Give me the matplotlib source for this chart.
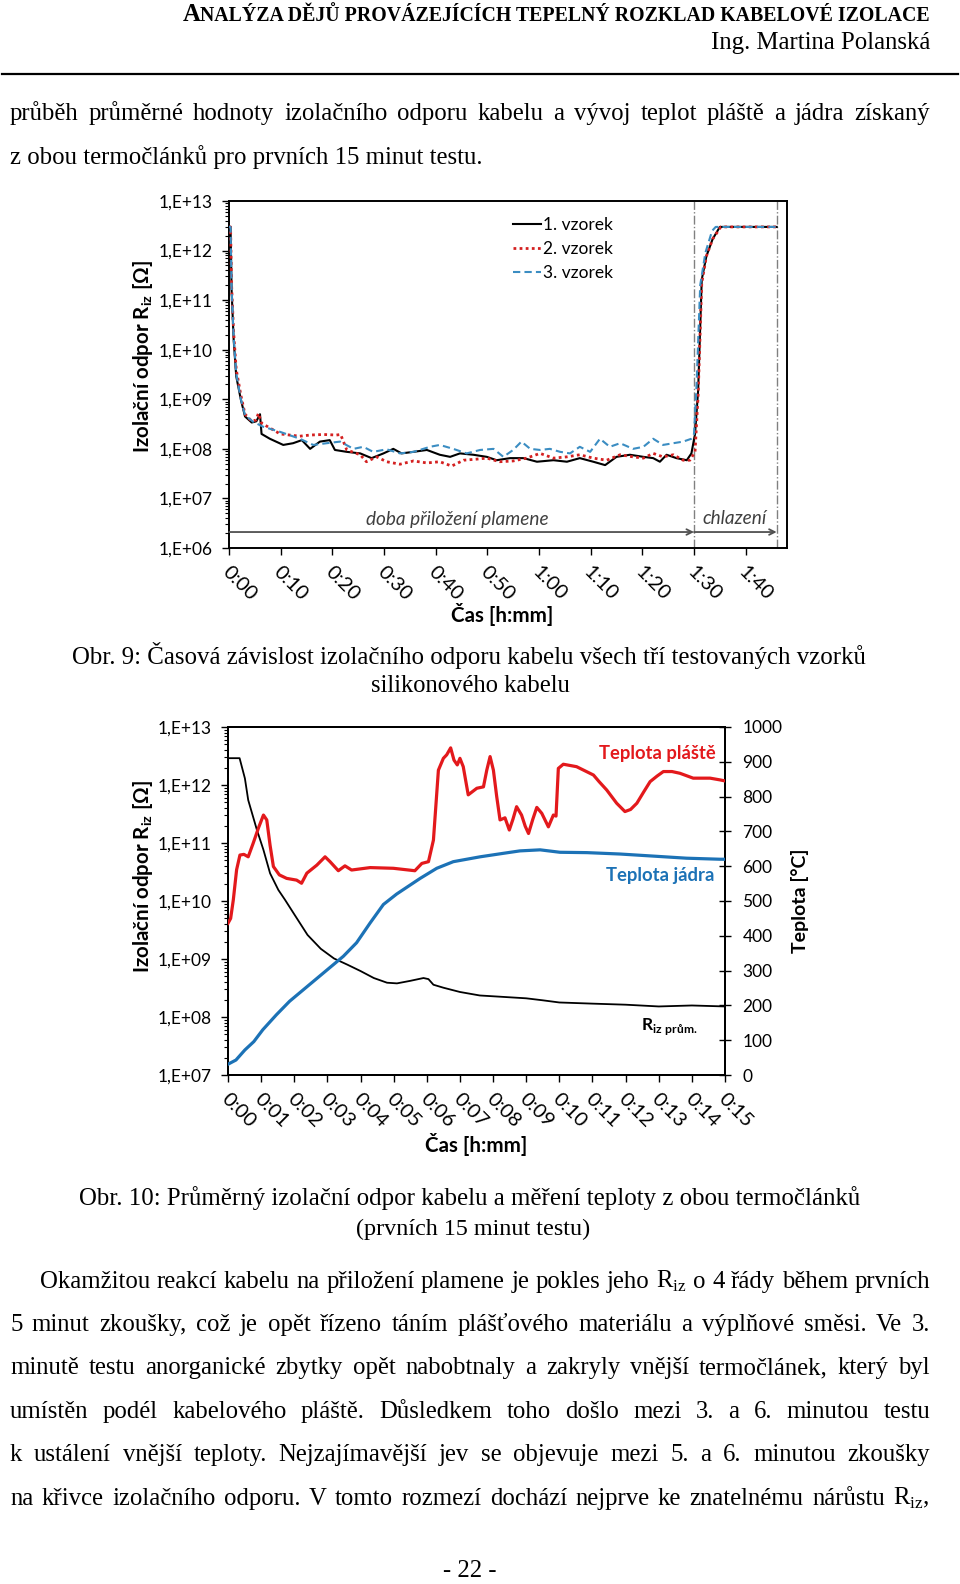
import numpy as np
import matplotlib
matplotlib.use('Agg')
import matplotlib.pyplot as plt
from matplotlib.transforms import Affine2D, ScaledTranslation
from matplotlib.lines import Line2D

# ---------------- data: chart 1 (three samples, time in minutes) ----------------
s1_t = [0, 0.3, 0.5, 0.9, 1.4, 2.3, 3.1, 4.4, 5.3, 6.0, 6.3, 7.9, 10.5, 12.4, 14.1, 15.7, 17.6,
        19.5, 20.5, 22.8, 25.4, 27.6, 29.9, 31.8, 33.4, 35.7, 38.3, 40.8, 42.8, 44.7, 47.3, 49.9,
        51.8, 54.4, 57.0, 59.6, 62.8, 65.4, 67.9, 70.5, 72.8, 75.0, 77.6, 80.2, 82.1, 83.4, 84.7,
        86.6, 88.6, 89.5, 90.2, 90.8, 91.5, 92.4, 93.6, 95.0, 106.0]
s1_v = [3.0e12, 3.0e12, 1.6e11, 1.6e10, 2.9e9, 9.8e8, 4.5e8, 3.4e8, 3.6e8, 5.0e8, 2.0e8, 1.6e8,
        1.2e8, 1.3e8, 1.5e8, 1.0e8, 1.4e8, 1.5e8, 9.5e7, 8.7e7, 8.1e7, 6.5e7, 8.1e7, 1.0e8, 8.1e7,
        8.7e7, 9.5e7, 7.6e7, 6.9e7, 8.1e7, 7.6e7, 6.9e7, 5.9e7, 6.5e7, 6.5e7, 5.5e7, 5.9e7, 5.5e7,
        6.5e7, 5.5e7, 4.7e7, 6.9e7, 7.6e7, 6.9e7, 6.5e7, 5.5e7, 7.6e7, 6.5e7, 5.9e7, 8.1e7, 2.0e8,
        1.5e9, 2.6e11, 7.7e11, 1.7e12, 3.0e12, 3.0e12]

s2_t = [0, 0.3, 0.5, 0.9, 1.4, 2.3, 3.1, 4.4, 5.2, 5.7, 6.3, 9.9, 13.7, 15.7, 18.3, 20.8, 21.6,
        22.8, 25.4, 26.6, 28.6, 30.5, 33.1, 35.7, 38.3, 40.8, 43.1, 45.4, 47.9, 49.9, 52.4, 55.0,
        57.6, 60.2, 62.8, 65.4, 67.9, 70.5, 73.1, 75.7, 78.2, 80.2, 82.1, 84.0, 86.0, 87.9, 89.2,
        90.2, 90.8, 91.5, 92.4, 93.6, 95.2, 106.0]
s2_v = [3.0e12, 3.0e12, 2.0e11, 2.2e10, 4.0e9, 1.2e9, 5.0e8, 3.6e8, 3.8e8, 5.2e8, 3.3e8, 2.0e8,
        1.8e8, 1.9e8, 1.95e8, 1.9e8, 1.95e8, 9.5e7, 7.6e7, 5.5e7, 6.9e7, 5.5e7, 4.9e7, 5.7e7, 5.2e7,
        5.5e7, 4.5e7, 5.9e7, 6.2e7, 6.5e7, 5.5e7, 5.7e7, 6.5e7, 8.1e7, 6.5e7, 6.9e7, 7.6e7, 6.5e7,
        5.9e7, 7.6e7, 6.9e7, 6.5e7, 8.1e7, 6.9e7, 7.6e7, 5.9e7, 5.9e7, 8.7e7, 1.2e9, 2.2e11, 7.7e11,
        1.7e12, 3.0e12, 3.0e12]

s3_t = [0, 0.3, 0.5, 0.9, 1.4, 2.3, 3.1, 4.7, 6.6, 9.9, 13.7, 16.3, 18.9, 21.5, 24.1, 26.0, 27.9,
        30.5, 33.1, 35.7, 38.9, 40.8, 43.4, 46.0, 48.6, 51.2, 53.1, 55.0, 56.6, 58.3, 60.2, 62.1,
        64.1, 66.0, 67.9, 69.9, 71.8, 73.7, 75.7, 78.2, 80.2, 82.1, 84.0, 86.0, 87.9, 89.5, 90.0,
        90.5, 91.2, 92.2, 93.5, 94.2, 106.0]
s3_v = [3.0e12, 3.0e12, 1.8e11, 1.8e10, 3.3e9, 1.0e9, 4.8e8, 3.5e8, 2.8e8, 2.2e8, 1.6e8, 1.2e8,
        1.3e8, 1.4e8, 1.0e8, 1.1e8, 8.7e7, 9.8e7, 8.1e7, 8.7e7, 1.1e8, 1.2e8, 1.0e8, 8.1e7, 9.5e7,
        1.0e8, 6.9e7, 9.5e7, 1.4e8, 1.0e8, 9.5e7, 1.0e8, 8.7e7, 8.1e7, 1.1e8, 8.7e7, 1.6e8, 1.1e8,
        1.3e8, 1.0e8, 1.1e8, 1.6e8, 1.2e8, 1.3e8, 1.4e8, 1.6e8, 2.0e8, 2.0e9, 2.0e11, 9.0e11,
        2.5e12, 3.0e12, 3.0e12]

series1_labels = ['1. vzorek', '2. vzorek', '3. vzorek']
c1_xticks = [0, 10, 20, 30, 40, 50, 60, 70, 80, 90, 100]
c1_xticklabels = ['0:00', '0:10', '0:20', '0:30', '0:40', '0:50', '1:00', '1:10', '1:20', '1:30', '1:40']
c1_yticks = [1e6, 1e7, 1e8, 1e9, 1e10, 1e11, 1e12, 1e13]
c1_yticklabels = ['1,E+06', '1,E+07', '1,E+08', '1,E+09', '1,E+10', '1,E+11', '1,E+12', '1,E+13']
flame_end = 90      # end of flame application [min]
cooling_end = 106   # end of cooling [min]

# ---------------- data: chart 2 (first 15 minutes) ----------------
riz_t = [0, 0.35, 0.51, 0.61, 0.87, 1.07, 1.27, 1.52, 1.72, 2.0, 2.4, 2.8, 3.2, 3.6, 4.0, 4.4, 4.8,
         5.1, 5.5, 5.9, 6.05, 6.2, 6.5, 7.0, 7.6, 8.2, 9.0, 9.5, 10.0, 11.0, 12.0, 13.0, 14.0, 15.0]
riz_v = [2.9e12, 2.9e12, 1.3e12, 5.5e11, 1.7e11, 7.6e10, 3.0e10, 1.55e10, 1.05e10, 5.9e9, 2.6e9,
         1.5e9, 1.02e9, 8.0e8, 6.2e8, 4.7e8, 3.9e8, 3.8e8, 4.2e8, 4.7e8, 4.5e8, 3.6e8, 3.2e8, 2.7e8,
         2.35e8, 2.24e8, 2.1e8, 1.94e8, 1.78e8, 1.7e8, 1.63e8, 1.52e8, 1.58e8, 1.52e8]

shell_t = [0.0, 0.08, 0.16, 0.26, 0.36, 0.48, 0.61, 0.76, 0.92, 1.07, 1.17, 1.27, 1.37, 1.55, 1.77,
           2.07, 2.22, 2.38, 2.68, 2.93, 3.08, 3.33, 3.53, 3.73, 4.29, 4.99, 5.64, 5.85, 6.05, 6.20,
           6.35, 6.50, 6.60, 6.72, 6.82, 6.92, 7.00, 7.10, 7.25, 7.51, 7.71, 7.81, 7.91, 8.01, 8.11,
           8.21, 8.36, 8.49, 8.60, 8.71, 8.86, 8.97, 9.07, 9.20, 9.32, 9.47, 9.67, 9.82, 9.90, 9.97,
           10.12, 10.52, 11.03, 11.20, 11.43, 11.73, 11.98, 12.15, 12.34, 12.55, 12.74, 12.95, 13.14,
           13.40, 13.64, 14.04, 14.55, 14.85, 15.0]
shell_temp = [436, 450, 503, 590, 632, 634, 627, 666, 710, 747, 733, 660, 599, 575, 565, 560, 551,
              580, 603, 627, 613, 587, 601, 589, 596, 594, 587, 608, 613, 675, 876, 910, 920, 940,
              905, 891, 910, 886, 805, 824, 828, 876, 915, 876, 800, 733, 739, 704, 735, 771, 747,
              715, 694, 735, 769, 752, 713, 747, 744, 881, 893, 886, 862, 843, 819, 781, 757, 763,
              781, 814, 843, 859, 872, 872, 867, 853, 853, 848, 845]

core_t = [0.0, 0.24, 0.51, 0.78, 1.05, 1.46, 1.86, 2.40, 2.94, 3.48, 3.88, 4.29, 4.69, 5.09, 5.80,
          6.30, 6.80, 7.61, 8.31, 8.81, 9.42, 10.02, 10.83, 11.83, 12.84, 13.84, 14.85, 15.0]
core_temp = [31, 43, 72, 96, 130, 173, 212, 255, 298, 341, 380, 437, 490, 520, 565, 594, 613, 627,
             637, 644, 647, 640, 639, 635, 629, 623, 620, 620]

c2_xticks = list(range(16))
c2_xticklabels = ['0:%02d' % m for m in range(16)]
c2_yticks = [1e7, 1e8, 1e9, 1e10, 1e11, 1e12, 1e13]
c2_yticklabels = ['1,E+07', '1,E+08', '1,E+09', '1,E+10', '1,E+11', '1,E+12', '1,E+13']
c2_rticks = [0, 100, 200, 300, 400, 500, 600, 700, 800, 900, 1000]

# ---------------- page text ----------------
header1_big = 'A'
header1_rest = 'NALÝZA DĚJŮ PROVÁZEJÍCÍCH TEPELNÝ ROZKLAD KABELOVÉ IZOLACE'
header2 = 'Ing. Martina Polanská'
intro1 = 'průběh průměrné hodnoty izolačního odporu kabelu a vývoj teplot pláště a jádra získaný'
intro2 = 'z obou termočlánků pro prvních 15 minut testu.'
cap9a = 'Obr. 9: Časová závislost izolačního odporu kabelu všech tří testovaných vzorků'
cap9b = 'silikonového kabelu'
cap10a = 'Obr. 10: Průměrný izolační odpor kabelu a měření teploty z obou termočlánků'
cap10b = '(prvních 15 minut testu)'
RIZ = r'R$_\mathregular{iz}$'
body = [
    'Okamžitou reakcí kabelu na přiložení plamene je pokles jeho ' + RIZ + ' o 4 řády během prvních',
    '5 minut zkoušky, což je opět řízeno táním plášťového materiálu a výplňové směsi. Ve 3.',
    'minutě testu anorganické zbytky opět nabobtnaly a zakryly vnější termočlánek, který byl',
    'umístěn podél kabelového pláště. Důsledkem toho došlo mezi 3. a 6. minutou testu',
    'k ustálení vnější teploty. Nejzajímavější jev se objevuje mezi 5. a 6. minutou zkoušky',
    'na křivce izolačního odporu. V tomto rozmezí dochází nejprve ke znatelnému nárůstu ' + RIZ + ',',
]
page_no = '- 22 -'

# ---------------- setup ----------------
SERIF = 'Liberation Serif'
SANS = 'Lato'
plt.rcParams['font.family'] = [SANS, 'DejaVu Sans']
plt.rcParams['mathtext.fontset'] = 'dejavusans'

W, H = 960, 1584
fig = plt.figure(figsize=(W / 100, H / 100), dpi=100)
fig.patch.set_facecolor('white')
PX = Affine2D().scale(1, -1).translate(0, H)   # pixel coords, origin top-left
renderer = fig.canvas.get_renderer()


def ptext(x, y, s, **kw):
    return fig.text(x, y, s, transform=PX, **kw)


def width(t):
    return t.get_window_extent(renderer).width


def fit_text(x, y, s, target_w, size0=14, **kw):
    t = ptext(x, y, s, fontsize=size0, **kw)
    t.set_fontsize(size0 * target_w / width(t))
    return t


def justify(y, x0, x1, line, size):
    words = line.split(' ')
    ts = [ptext(0, y, w, fontsize=size, family=SERIF, va='baseline', ha='left') for w in words]
    ws = [width(t) for t in ts]
    gap = (x1 - x0 - sum(ws)) / (len(ws) - 1)
    x = x0
    for t, w in zip(ts, ws):
        t.set_x(x)
        x += w + gap


# header
hr = fit_text(930, 21, header1_rest, 728, size0=13, family=SERIF, weight='bold', ha='right', va='baseline')
hb = ptext(930 - width(hr), 21, header1_big, fontsize=hr.get_fontsize() * 1.25, family=SERIF,
           weight='bold', ha='right', va='baseline')
fit_text(930, 49, header2, 220, size0=14, family=SERIF, ha='right', va='baseline')
fig.add_artist(Line2D([2 / W, 958 / W], [1 - 74 / H, 1 - 74 / H], color='black', lw=1.6))

# intro
t_int2 = fit_text(10, 164, intro2, 473, size0=15, family=SERIF, ha='left', va='baseline')
BODY_SIZE = t_int2.get_fontsize()
justify(120, 10, 930, intro1, BODY_SIZE)

# ---------------- chart 1 ----------------
TICK_FS = 12.5
XTICK_FS = 14.5
TITLE_FS = 14.8
ax1 = fig.add_axes([229 / W, 1 - 548 / H, (787 - 229) / W, (548 - 201) / H])
ax1.plot(s1_t, s1_v, color='black', lw=1.5, zorder=3)
ax1.plot(s2_t, s2_v, color='#D42020', lw=2.0, ls=(0, (1, 1.2)), zorder=4)
ax1.plot(s3_t, s3_v, color='#3B8DC2', lw=1.5, ls=(0, (3.5, 2)), zorder=5)
ax1.set_yscale('log')
ax1.set_ylim(1e6, 1e13)
ax1.set_xlim(0, 108)
ax1.set_yticks(c1_yticks, c1_yticklabels)
ax1.set_xticks(c1_xticks, c1_xticklabels)
ax1.yaxis.set_minor_locator(matplotlib.ticker.LogLocator(base=10, subs=np.arange(2, 10)))
ax1.yaxis.set_minor_formatter(matplotlib.ticker.NullFormatter())
ax1.tick_params(axis='y', which='major', direction='out', length=5, width=1, labelsize=TICK_FS, pad=7)
ax1.tick_params(axis='x', which='major', direction='out', length=5, width=1, labelsize=XTICK_FS, pad=4)
ax1.tick_params(axis='y', which='minor', direction='out', length=3, width=0.8)
for sp in ax1.spines.values():
    sp.set_linewidth(1.4)
    sp.set_color('black')
ax1.axvline(flame_end, color='#808080', ls='-.', lw=1.0, zorder=1)
ax1.axvline(cooling_end, color='#808080', ls='-.', lw=1.0, zorder=1)
ax1.annotate('', xy=(flame_end, 2.1e6), xytext=(0, 2.1e6),
             arrowprops=dict(arrowstyle='->', color='#505050', lw=1.3, shrinkA=0, shrinkB=0))
ax1.annotate('', xy=(cooling_end, 2.1e6), xytext=(flame_end, 2.1e6),
             arrowprops=dict(arrowstyle='->', color='#505050', lw=1.3, shrinkA=0, shrinkB=0))
handles = [Line2D([], [], color='black', lw=1.5),
           Line2D([], [], color='#D42020', lw=2.0, ls=(0, (1, 1.2))),
           Line2D([], [], color='#3B8DC2', lw=1.5, ls=(0, (3.5, 2)))]
ax1.legend(handles, series1_labels, loc='upper left', bbox_to_anchor=((513 - 229) / 558, (548 - 217) / 347),
           frameon=False, fontsize=12.5, handlelength=1.6, handletextpad=0.15, labelspacing=0.45,
           borderaxespad=0, borderpad=0)
ptext(457, 519, 'doba přiložení plamene', fontsize=13.7, style='italic', color='#404040', ha='center', va='center')
ptext(735, 519, 'chlazení', fontsize=13.7, style='italic', color='#404040', ha='center', va='center')

off = ScaledTranslation(-4 / 100, -9 / 100, fig.dpi_scale_trans)
for lbl in ax1.get_xticklabels():
    lbl.set(rotation=-45, ha='left', va='center', rotation_mode='anchor')
    lbl.set_transform(lbl.get_transform() + off)

ptext(143, 357, 'Izolační odpor ' + RIZ + ' [Ω]', fontsize=TITLE_FS, weight='bold', rotation=90, ha='center', va='center')
ptext(502, 615, 'Čas [h:mm]', fontsize=TITLE_FS, weight='bold', ha='center', va='center')

# caption 9
fit_text(469, 664, cap9a, 796, size0=15, family=SERIF, ha='center', va='baseline')
fit_text(470, 692, cap9b, 200, size0=15, family=SERIF, ha='center', va='baseline')

# ---------------- chart 2 ----------------
ax2 = fig.add_axes([228 / W, 1 - 1075 / H, (725 - 228) / W, (1075 - 727) / H])
ax2r = ax2.twinx()
ax2.plot(riz_t, riz_v, color='black', lw=1.3, zorder=3)
ax2.set_yscale('log')
ax2.set_ylim(1e7, 1e13)
ax2.set_xlim(0, 15)
ax2.set_yticks(c2_yticks, c2_yticklabels)
ax2.set_xticks(c2_xticks, c2_xticklabels)
ax2.yaxis.set_minor_locator(matplotlib.ticker.LogLocator(base=10, subs=np.arange(2, 10)))
ax2.yaxis.set_minor_formatter(matplotlib.ticker.NullFormatter())
ax2.tick_params(axis='y', which='major', direction='out', length=5, width=1, labelsize=TICK_FS, pad=7)
ax2.tick_params(axis='x', which='major', direction='out', length=5, width=1, labelsize=XTICK_FS, pad=4)
ax2.tick_params(axis='y', which='minor', direction='out', length=3, width=0.8)
ax2r.plot(shell_t, shell_temp, color='#E3191C', lw=2.3, zorder=3)
ax2r.plot(core_t, core_temp, color='#1C72B6', lw=2.3, zorder=3)
ax2r.set_ylim(0, 1000)
ax2r.set_yticks(c2_rticks)
ax2r.tick_params(axis='y', direction='inout', length=9, width=1, labelsize=TICK_FS, pad=8)
for a in (ax2, ax2r):
    for sp in a.spines.values():
        sp.set_linewidth(1.4)
        sp.set_color('black')
for lbl in ax2.get_xticklabels():
    lbl.set(rotation=-45, ha='left', va='center', rotation_mode='anchor')
    lbl.set_transform(lbl.get_transform() + off)

ptext(143, 877, 'Izolační odpor ' + RIZ + ' [Ω]', fontsize=TITLE_FS, weight='bold', rotation=90, ha='center', va='center')
ptext(800, 901, 'Teplota [°C]', fontsize=14, weight='bold', rotation=90, ha='center', va='center')
ptext(476, 1144, 'Čas [h:mm]', fontsize=TITLE_FS, weight='bold', ha='center', va='center')
ptext(657, 754, 'Teplota pláště', fontsize=13.2, weight='bold', color='#E3191C', ha='center', va='center')
ptext(660, 875, 'Teplota jádra', fontsize=13.3, weight='bold', color='#1C72B6', ha='center', va='center')
ptext(641, 1030, r'R$_\mathregular{iz\ prům.}$', fontsize=12.5, weight='bold', color='black', ha='left', va='baseline')

# caption 10
fit_text(470, 1205, cap10a, 782, size0=15, family=SERIF, ha='center', va='baseline')
fit_text(473, 1235, cap10b, 235, size0=15, family=SERIF, ha='center', va='baseline')

# body paragraph
body_y = [1288, 1331, 1374, 1418, 1461, 1505]
for i, (line, y) in enumerate(zip(body, body_y)):
    justify(y, 40 if i == 0 else 10, 930, line, BODY_SIZE)

ptext(470, 1577, page_no, fontsize=BODY_SIZE, family=SERIF, ha='center', va='baseline')

fig.savefig('out.png', dpi=100, facecolor='white')
